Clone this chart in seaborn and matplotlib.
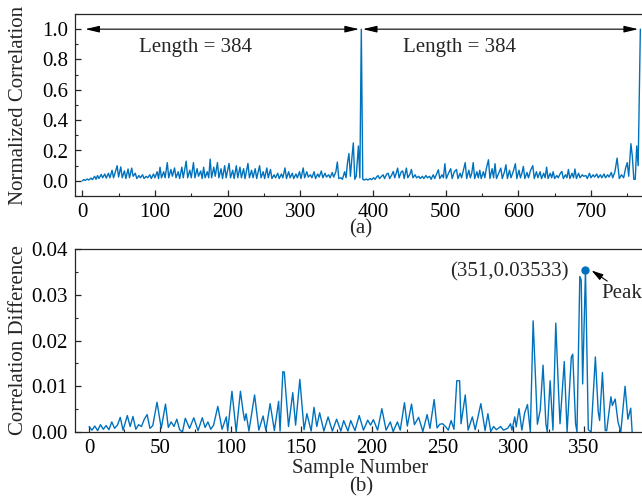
import numpy as np
import pandas as pd
import matplotlib
matplotlib.use("Agg")
import matplotlib.pyplot as plt
from matplotlib.patches import ArrowStyle
from matplotlib.ticker import MultipleLocator, FormatStrFormatter
import seaborn as sns

# ---------------- data (extrema of the traces) ----------------
top_n = [0, 2, 4, 7, 9, 12, 14, 17, 19, 21, 23, 26, 28, 31, 33, 36, 38, 41, 43, 45,
         48, 50, 53, 55, 58, 60, 63, 65, 68, 70, 73, 75, 78, 80, 83, 85, 88, 90, 93, 95,
         98, 100, 103, 105, 107, 109, 112, 114, 117, 119, 122, 124, 127, 129, 132, 134, 137, 139, 143, 145,
         148, 150, 153, 155, 158, 160, 163, 165, 167, 169, 172, 174, 176, 178, 181, 183, 186, 188, 191, 193,
         196, 198, 202, 204, 207, 209, 212, 214, 217, 219, 222, 224, 228, 230, 233, 235, 238, 240, 244, 246,
         249, 251, 254, 256, 259, 261, 264, 266, 269, 271, 274, 276, 279, 281, 284, 286, 289, 291, 294, 296,
         299, 301, 304, 306, 309, 311, 314, 316, 319, 321, 324, 326, 329, 331, 334, 336, 339, 341, 344, 346,
         349, 351, 353, 356, 358, 361, 363, 365, 367, 369, 371, 373, 375, 377, 380, 382, 384, 386,
         388, 391, 393, 396, 398, 401, 403, 405, 407, 409, 412, 414, 416, 419, 421, 423, 426, 428, 430, 432,
         434, 436, 439, 441, 443, 446, 448, 451, 453, 455, 458, 460, 463, 465, 468, 470, 473, 475, 478, 480,
         483, 485, 488, 490, 492, 495, 497, 499, 501, 504, 507, 509, 512, 515, 517, 520, 522, 524, 527, 529,
         532, 534, 536, 538, 540, 543, 545, 547, 549, 552, 554, 556, 559, 561, 564, 566, 568, 570, 573, 576,
         578, 581, 583, 585, 588, 590, 593, 596, 598, 601, 603, 605, 607, 609, 612, 614, 617, 620, 622, 625,
         627, 630, 632, 635, 637, 639, 641, 644, 646, 648, 650, 653, 655, 658, 660, 662, 665, 667, 669, 671,
         674, 676, 678, 680, 683, 685, 688, 690, 693, 695, 698, 700, 703, 705, 708, 710, 713, 715, 718, 720,
         723, 725, 728, 730, 733, 736, 739, 742, 745, 748, 750, 752, 755, 757, 759, 761, 763, 765, 768]
top_v = [0.0, 0.008, 0.003, 0.012, 0.005, 0.018, 0.008, 0.03, 0.01, 0.035, 0.015, 0.042, 0.02, 0.045, 0.018, 0.05, 0.02, 0.07, 0.02, 0.05,
         0.1, 0.025, 0.092, 0.02, 0.066, 0.015, 0.078, 0.02, 0.084, 0.03, 0.05, 0.015, 0.035, 0.02, 0.04, 0.015, 0.03, 0.02, 0.04, 0.015,
         0.045, 0.02, 0.06, 0.015, 0.09, 0.02, 0.06, 0.02, 0.12, 0.02, 0.075, 0.03, 0.085, 0.02, 0.06, 0.015, 0.09, 0.02, 0.13, 0.02,
         0.07, 0.02, 0.12, 0.02, 0.08, 0.03, 0.065, 0.015, 0.09, 0.02, 0.06, 0.02, 0.143, 0.02, 0.09, 0.03, 0.12, 0.02, 0.08, 0.015,
         0.1, 0.02, 0.115, 0.02, 0.07, 0.015, 0.1, 0.02, 0.09, 0.02, 0.08, 0.015, 0.115, 0.02, 0.07, 0.02, 0.08, 0.015, 0.1, 0.02,
         0.06, 0.015, 0.085, 0.02, 0.075, 0.015, 0.04, 0.02, 0.05, 0.015, 0.045, 0.02, 0.085, 0.015, 0.06, 0.02, 0.05, 0.015, 0.045, 0.02,
         0.06, 0.015, 0.085, 0.02, 0.06, 0.025, 0.04, 0.02, 0.06, 0.015, 0.045, 0.025, 0.065, 0.02, 0.05, 0.025, 0.04, 0.02, 0.055, 0.025,
         0.06, 0.124, 0.015, 0.02, 0.01, 0.06, 0.02, 0.12, 0.18, 0.03, 0.15, 0.25, 0.01, 0.03, 0.23, 0.02, 1.0, 0.01,
         0.005, 0.012, 0.005, 0.015, 0.008, 0.02, 0.01, 0.025, 0.035, 0.015, 0.03, 0.04, 0.015, 0.045, 0.05, 0.015, 0.04, 0.062, 0.02, 0.05,
         0.084, 0.02, 0.06, 0.065, 0.015, 0.084, 0.02, 0.045, 0.075, 0.02, 0.04, 0.02, 0.03, 0.015, 0.03, 0.015, 0.035, 0.02, 0.03, 0.01,
         0.04, 0.015, 0.05, 0.073, 0.015, 0.04, 0.02, 0.113, 0.015, 0.05, 0.08, 0.015, 0.06, 0.075, 0.015, 0.05, 0.02, 0.06, 0.12, 0.015,
         0.07, 0.02, 0.05, 0.12, 0.015, 0.06, 0.02, 0.07, 0.015, 0.06, 0.02, 0.08, 0.139, 0.015, 0.08, 0.02, 0.113, 0.015, 0.05, 0.084,
         0.015, 0.06, 0.106, 0.015, 0.07, 0.02, 0.06, 0.113, 0.015, 0.07, 0.02, 0.05, 0.095, 0.015, 0.055, 0.02, 0.07, 0.1, 0.015, 0.06,
         0.02, 0.06, 0.015, 0.05, 0.02, 0.09, 0.015, 0.05, 0.02, 0.06, 0.015, 0.035, 0.02, 0.05, 0.062, 0.015, 0.04, 0.02, 0.075, 0.015,
         0.05, 0.02, 0.078, 0.015, 0.05, 0.02, 0.04, 0.03, 0.035, 0.015, 0.05, 0.02, 0.04, 0.025, 0.045, 0.02, 0.04, 0.02, 0.045, 0.02,
         0.04, 0.025, 0.055, 0.02, 0.06, 0.15, 0.015, 0.04, 0.02, 0.09, 0.12, 0.03, 0.245, 0.16, 0.01, 0.01, 0.23, 0.1, 1.0]

bot_n = [0, 2, 4, 6, 8, 10, 12, 14, 16, 18, 20, 22, 24, 27, 29, 31, 33, 35, 37, 39,
         41, 43, 45, 48, 51, 54, 56, 58, 60, 62, 64, 66, 68, 71, 74, 77, 80, 82, 84, 86,
         88, 91, 94, 97, 98, 101, 104, 107, 109, 110, 111, 113, 117, 120, 123, 125, 128, 131, 134, 135,
         137, 138, 141, 144, 146, 149, 152, 154, 157, 159, 161, 163, 166, 169, 172, 175, 178, 180, 183, 185,
         188, 191, 194, 197, 199, 201, 204, 207, 210, 213, 215, 218, 220, 223, 225, 228, 230, 233, 236, 239,
         241, 244, 246, 248, 250, 252, 254, 256, 258, 260, 262, 263, 266, 268, 271, 273, 277, 280, 282, 284,
         286, 288, 291, 293, 296, 298, 299, 301, 302, 304, 306, 308, 310, 312, 314, 317, 319, 321, 323, 324,
         326, 328, 330, 332, 333, 336, 338, 341, 342, 344, 345, 347, 348, 349, 351, 353, 355, 358, 360, 361,
         363, 365, 366, 369, 370, 372, 374, 376, 379, 381, 383, 384]
bot_v = [0.0012, 0.0004, 0.0013, 0.0003, 0.0016, 0.0006, 0.0014, 0.0005, 0.0022, 0.0008, 0.0015, 0.0032, 0.0004, 0.0036, 0.0012, 0.0034, 0.0006, 0.0016, 0.0012, 0.0028,
         0.0038, 0.0008, 0.0014, 0.0065, 0.0008, 0.0061, 0.001, 0.0022, 0.0012, 0.0028, 0.0005, 0.0, 0.003, 0.0008, 0.0031, 0.0003, 0.0031, 0.001, 0.0022, 0.0006,
         0.0015, 0.0056, 0.0006, 0.0033, 0.0002, 0.0089, 0.0, 0.0089, 0.0042, 0.0025, 0.004, 0.0002, 0.0081, 0.0004, 0.0035, 0.0003, 0.0062, 0.0003, 0.0067, 0.0002,
         0.0132, 0.0131, 0.0012, 0.0086, 0.0015, 0.0115, 0.0005, 0.004, 0.0002, 0.0054, 0.0012, 0.0042, 0.0002, 0.0033, 0.0002, 0.0028, 0.0002, 0.0025, 0.0002, 0.0025,
         0.0003, 0.0036, 0.0004, 0.0026, 0.0015, 0.0027, 0.0004, 0.0051, 0.0004, 0.0022, 0.0001, 0.0022, 0.0004, 0.0064, 0.0013, 0.0061, 0.0016, 0.0032, 0.0001, 0.0038,
         0.0008, 0.0071, 0.0009, 0.0017, 0.0018, 0.0012, 0.0004, 0.0025, 0.0006, 0.0112, 0.0112, 0.0018, 0.0081, 0.0004, 0.0033, 0.0005, 0.0062, 0.0003, 0.004, 0.0001,
         0.0012, 0.0005, 0.0012, 0.0004, 0.0008, 0.0018, 0.0004, 0.0033, 0.0011, 0.0051, 0.0004, 0.0042, 0.006, 0.0, 0.0243, 0.0017, 0.0048, 0.0146, 0.0018, 0.0,
         0.0112, 0.0004, 0.0238, 0.0085, 0.0018, 0.0154, 0.0, 0.0164, 0.017, 0.0018, 0.0, 0.034, 0.0332, 0.0105, 0.03533, 0.0005, 0.0, 0.0164, 0.0045, 0.0025,
         0.013, 0.0003, 0.0003, 0.0077, 0.0058, 0.0072, 0.0022, 0.0, 0.01, 0.0028, 0.0052, 0.0]

peak_n = [351]
peak_v = [0.03533]

top_xticks = [0, 100, 200, 300, 400, 500, 600, 700]
bot_xticks = [0, 50, 100, 150, 200, 250, 300, 350]

# ---------------- style ----------------
sns.set_style("ticks")
plt.rcParams["font.family"] = ["Liberation Serif", "DejaVu Serif"]
plt.rcParams["font.size"] = 15
plt.rcParams["mathtext.fontset"] = "stix"

LINE = "#0072BD"
EDGE = "#262626"

fig = plt.figure(figsize=(6.42, 5.0), dpi=100)
W, H = 642, 500
ax1 = fig.add_axes([75 / W, 1 - 196 / H, 570 / W, 182 / H])
ax2 = fig.add_axes([75 / W, 1 - 432 / H, 570 / W, 183 / H])

df_top = pd.DataFrame({"n": top_n, "v": top_v})
df_bot = pd.DataFrame({"n": bot_n, "v": bot_v})

sns.lineplot(data=df_top, x="n", y="v", ax=ax1, color=LINE, linewidth=1.0,
             estimator=None, sort=False)
sns.lineplot(data=df_bot, x="n", y="v", ax=ax2, color=LINE, linewidth=1.0,
             estimator=None, sort=False)
sns.scatterplot(x=peak_n, y=peak_v, ax=ax2, color=LINE, s=36, edgecolor=LINE,
                linewidth=0, zorder=5)

for ax in (ax1, ax2):
    ax.set_xlabel("")
    ax.set_ylabel("")
    for s in ("top", "left", "bottom"):
        ax.spines[s].set_visible(True)
        ax.spines[s].set_color(EDGE)
        ax.spines[s].set_linewidth(0.9)
    ax.spines["right"].set_visible(False)
    ax.tick_params(which="both", direction="in", color=EDGE, labelcolor="black",
                   top=False, right=False, labelsize=15, pad=5)
    ax.tick_params(which="major", length=4, width=0.9)
    ax.tick_params(which="minor", length=2.2, width=0.8)

# top panel axes
ax1.set_xlim(-10, 774.4)
ax1.set_ylim(-0.1, 1.1)
ax1.set_xticks(top_xticks)
ax1.xaxis.set_minor_locator(MultipleLocator(50))
ax1.set_yticks([0.0, 0.2, 0.4, 0.6, 0.8, 1.0])
ax1.yaxis.set_minor_locator(MultipleLocator(0.1))
ax1.yaxis.set_major_formatter(FormatStrFormatter("%.1f"))

# bottom panel axes
ax2.set_xlim(-10, 393.1)
ax2.set_ylim(0, 0.04)
ax2.set_xticks(bot_xticks)
ax2.xaxis.set_minor_locator(MultipleLocator(25))
ax2.set_yticks([0.0, 0.01, 0.02, 0.03, 0.04])
ax2.yaxis.set_minor_locator(MultipleLocator(0.005))
ax2.yaxis.set_major_formatter(FormatStrFormatter("%.2f"))

# double-headed length arrows
dbl = ArrowStyle("<|-|>", head_length=0.85, head_width=0.2)
for a, b in ((4, 381), (386, 765)):
    ax1.annotate("", xy=(a, 1.0), xytext=(b, 1.0),
                 arrowprops=dict(arrowstyle=dbl, color="black", lw=0.8,
                                 shrinkA=0, shrinkB=0, mutation_scale=10))
ax1.text(156, 0.85, "Length = 384", ha="center", va="baseline", fontsize=15)
ax1.text(519, 0.85, "Length = 384", ha="center", va="baseline", fontsize=15)

# peak annotation
ax2.text(339, 0.0351, "(351,0.03533)", ha="right", va="center", fontsize=15)
ax2.annotate("Peak", xy=(355.3, 0.0353), xytext=(362.6, 0.0302),
             ha="left", va="center", fontsize=15,
             arrowprops=dict(arrowstyle=ArrowStyle("-|>", head_length=0.7, head_width=0.2),
                             color="black", lw=0.8, shrinkA=0, shrinkB=0,
                             mutation_scale=10, relpos=(0.25, 1.0)))

# labels
fig.text(19 / W, 1 - 105 / H, "Normalized Correlation", rotation=90,
         ha="center", va="center", fontsize=15)
fig.text(19 / W, 1 - 340 / H, "Correlation Difference", rotation=90,
         ha="center", va="center", fontsize=15)
fig.text(361 / W, 1 - 229 / H, "(a)", ha="center", va="center", fontsize=15)
fig.text(360 / W, 1 - 468 / H, "Sample Number", ha="center", va="center", fontsize=15)
fig.text(361 / W, 1 - 487 / H, "(b)", ha="center", va="center", fontsize=15)

fig.savefig("out.png", dpi=100, facecolor="white")
